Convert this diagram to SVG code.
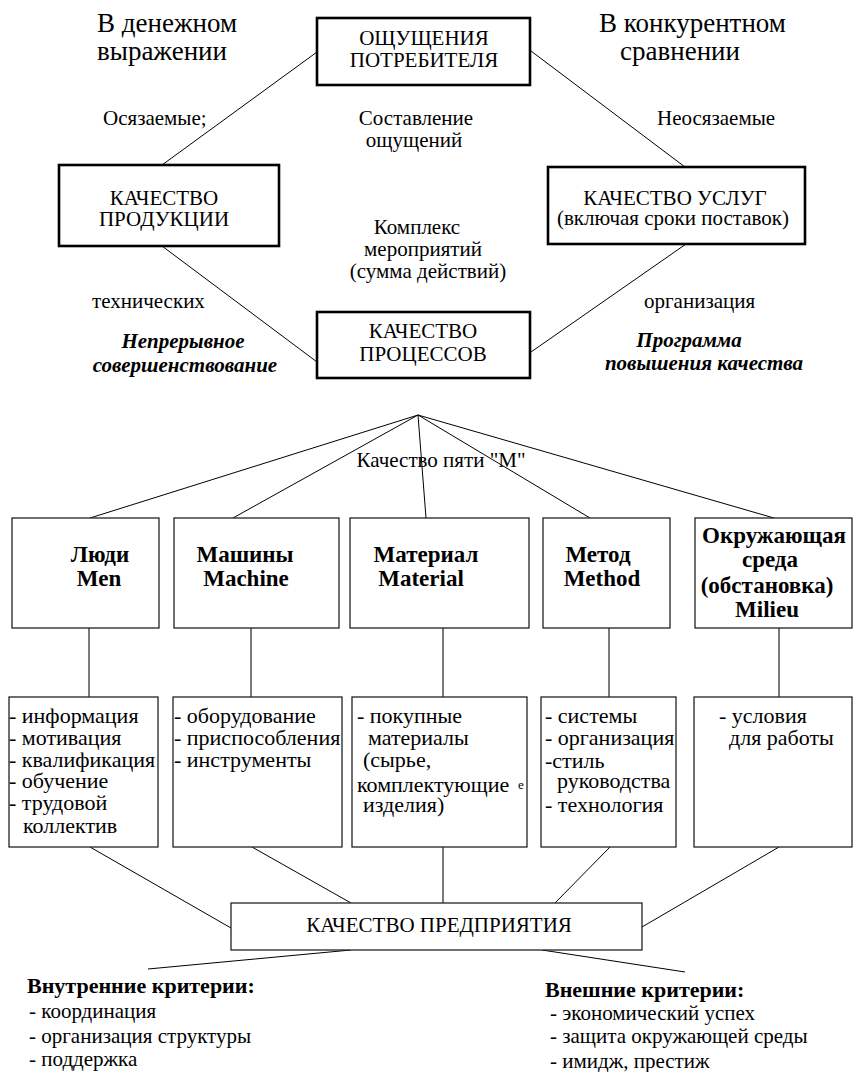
<svg xmlns="http://www.w3.org/2000/svg" width="854" height="1072" viewBox="0 0 854 1072">
  <rect width="854" height="1072" fill="#fff"/>

  <!-- connectors -->
  <g id="connectors" stroke="#000" stroke-width="1" fill="none">
    <line x1="317" y1="52" x2="162" y2="165"/>
    <line x1="531" y1="51" x2="685" y2="167"/>
    <line x1="162" y1="246" x2="317" y2="362"/>
    <line x1="686" y1="244" x2="531" y2="352"/>
    <line x1="418" y1="415" x2="90" y2="518"/>
    <line x1="418" y1="415" x2="233" y2="518"/>
    <line x1="418" y1="415" x2="426" y2="518"/>
    <line x1="418" y1="415" x2="590" y2="518"/>
    <line x1="418" y1="415" x2="774" y2="518"/>
    <g stroke="#333" stroke-width="1.3">
      <line x1="89" y1="628" x2="89" y2="697"/>
      <line x1="251" y1="628" x2="251" y2="697"/>
      <line x1="443" y1="628" x2="443" y2="697"/>
      <line x1="609" y1="628" x2="609" y2="697"/>
      <line x1="779" y1="628" x2="779" y2="697"/>
      <line x1="443" y1="847" x2="443" y2="903"/>
    </g>
    <line x1="90" y1="847" x2="231" y2="928"/>
    <line x1="252" y1="847" x2="351" y2="903"/>
    <line x1="610" y1="847" x2="555" y2="903"/>
    <line x1="779" y1="847" x2="642" y2="927"/>
    <line x1="351" y1="950" x2="148" y2="969"/>
    <line x1="542" y1="950" x2="685" y2="972"/>
  </g>

  <!-- free labels -->
  <g id="labels">
    <text font-family="Liberation Serif" font-size="27" x="97" y="32">В денежном</text>
    <text font-family="Liberation Serif" font-size="27" x="97" y="60">выражении</text>
    <text font-family="Liberation Serif" font-size="27" x="599" y="32">В конкурентном</text>
    <text font-family="Liberation Serif" font-size="27" x="620" y="60">сравнении</text>
    <text font-family="Liberation Serif" font-size="21" x="103" y="125">Осязаемые;</text>
    <text font-family="Liberation Serif" font-size="21" text-anchor="middle" x="416" y="125">Составление</text>
    <text font-family="Liberation Serif" font-size="21" text-anchor="middle" x="414" y="147">ощущений</text>
    <text font-family="Liberation Serif" font-size="21" x="657" y="125">Неосязаемые</text>
    <text font-family="Liberation Serif" font-size="21" text-anchor="middle" x="417" y="234">Комплекс</text>
    <text font-family="Liberation Serif" font-size="21" text-anchor="middle" x="423" y="256">мероприятий</text>
    <text font-family="Liberation Serif" font-size="21" text-anchor="middle" x="428" y="278">(сумма действий)</text>
    <text font-family="Liberation Serif" font-size="21" x="92" y="308">технических</text>
    <text font-family="Liberation Serif" font-size="21" x="644" y="308">организация</text>
    <text font-family="Liberation Serif" font-size="21" font-weight="bold" font-style="italic" text-anchor="middle" x="183" y="348">Непрерывное</text>
    <text font-family="Liberation Serif" font-size="21" font-weight="bold" font-style="italic" text-anchor="middle" x="185" y="372">совершенствование</text>
    <text font-family="Liberation Serif" font-size="21" font-weight="bold" font-style="italic" text-anchor="middle" x="689" y="347">Программа</text>
    <text font-family="Liberation Serif" font-size="21" font-weight="bold" font-style="italic" text-anchor="middle" x="704" y="370">повышения качества</text>
    <text font-family="Liberation Serif" font-size="21" text-anchor="middle" x="441" y="467">Качество пяти "М"</text>
  </g>

  <g id="node-consumer">
    <rect x="317" y="18" width="213" height="67" fill="#fff" stroke="#000" stroke-width="2.6"/>
    <text font-family="Liberation Serif" font-size="21" text-anchor="middle" x="424" y="45">ОЩУЩЕНИЯ</text>
    <text font-family="Liberation Serif" font-size="21" text-anchor="middle" x="424" y="67">ПОТРЕБИТЕЛЯ</text>
  </g>
  <g id="node-product">
    <rect x="59" y="165" width="220" height="81" fill="#fff" stroke="#000" stroke-width="2.6"/>
    <text font-family="Liberation Serif" font-size="21" text-anchor="middle" x="164" y="205">КАЧЕСТВО</text>
    <text font-family="Liberation Serif" font-size="21" text-anchor="middle" x="164" y="226">ПРОДУКЦИИ</text>
  </g>
  <g id="node-service">
    <rect x="548" y="167" width="257" height="77" fill="#fff" stroke="#000" stroke-width="2.6"/>
    <text font-family="Liberation Serif" font-size="21" text-anchor="middle" x="675" y="205">КАЧЕСТВО УСЛУГ</text>
    <text font-family="Liberation Serif" font-size="21" text-anchor="middle" x="673" y="225">(включая сроки поставок)</text>
  </g>
  <g id="node-process">
    <rect x="317" y="312" width="213" height="66" fill="#fff" stroke="#000" stroke-width="2.6"/>
    <text font-family="Liberation Serif" font-size="21" text-anchor="middle" x="423" y="338">КАЧЕСТВО</text>
    <text font-family="Liberation Serif" font-size="21" text-anchor="middle" x="423" y="361">ПРОЦЕССОВ</text>
  </g>

  <g id="node-men">
    <rect x="12" y="518" width="147" height="110" fill="#fff" stroke="#222" stroke-width="1.3"/>
    <text font-family="Liberation Serif" font-size="23" font-weight="bold" text-anchor="middle" x="100" y="562">Люди</text>
    <text font-family="Liberation Serif" font-size="23" font-weight="bold" text-anchor="middle" x="99" y="586">Men</text>
  </g>
  <g id="node-machine">
    <rect x="174" y="518" width="165" height="110" fill="#fff" stroke="#222" stroke-width="1.3"/>
    <text font-family="Liberation Serif" font-size="23" font-weight="bold" text-anchor="middle" x="245" y="562">Машины</text>
    <text font-family="Liberation Serif" font-size="23" font-weight="bold" text-anchor="middle" x="246" y="586">Machine</text>
  </g>
  <g id="node-material">
    <rect x="350" y="518" width="179" height="110" fill="#fff" stroke="#222" stroke-width="1.3"/>
    <text font-family="Liberation Serif" font-size="23" font-weight="bold" text-anchor="middle" x="426" y="562">Материал</text>
    <text font-family="Liberation Serif" font-size="23" font-weight="bold" text-anchor="middle" x="421" y="586">Material</text>
  </g>
  <g id="node-method">
    <rect x="543" y="518" width="127" height="110" fill="#fff" stroke="#222" stroke-width="1.3"/>
    <text font-family="Liberation Serif" font-size="23" font-weight="bold" text-anchor="middle" x="598" y="562">Метод</text>
    <text font-family="Liberation Serif" font-size="23" font-weight="bold" text-anchor="middle" x="602" y="586">Method</text>
  </g>
  <g id="node-milieu">
    <rect x="695" y="518" width="157" height="110" fill="#fff" stroke="#222" stroke-width="1.3"/>
    <text font-family="Liberation Serif" font-size="23" font-weight="bold" text-anchor="middle" x="774" y="543">Окружающая</text>
    <text font-family="Liberation Serif" font-size="23" font-weight="bold" text-anchor="middle" x="770" y="567">среда</text>
    <text font-family="Liberation Serif" font-size="23" font-weight="bold" text-anchor="middle" x="767" y="593">(обстановка)</text>
    <text font-family="Liberation Serif" font-size="23" font-weight="bold" text-anchor="middle" x="767" y="617">Milieu</text>
  </g>

  <g id="list-men">
    <rect x="9" y="697" width="149" height="150" fill="#fff" stroke="#222" stroke-width="1.3"/>
    <text font-family="Liberation Serif" font-size="22" x="9" y="723">- информация</text>
    <text font-family="Liberation Serif" font-size="22" x="9" y="745">- мотивация</text>
    <text font-family="Liberation Serif" font-size="22" x="9" y="767">- квалификация</text>
    <text font-family="Liberation Serif" font-size="22" x="9" y="788">- обучение</text>
    <text font-family="Liberation Serif" font-size="22" x="9" y="810">- трудовой</text>
    <text font-family="Liberation Serif" font-size="22" x="23" y="833">коллектив</text>
  </g>
  <g id="list-machine">
    <rect x="173" y="697" width="169" height="150" fill="#fff" stroke="#222" stroke-width="1.3"/>
    <text font-family="Liberation Serif" font-size="22" x="174" y="723">- оборудование</text>
    <text font-family="Liberation Serif" font-size="22" x="174" y="745">- приспособления</text>
    <text font-family="Liberation Serif" font-size="22" x="174" y="767">- инструменты</text>
  </g>
  <g id="list-material">
    <rect x="352" y="697" width="175" height="150" fill="#fff" stroke="#222" stroke-width="1.3"/>
    <text font-family="Liberation Serif" font-size="22" x="357" y="723">- покупные</text>
    <text font-family="Liberation Serif" font-size="22" x="368" y="745">материалы</text>
    <text font-family="Liberation Serif" font-size="22" x="363" y="767">(сырье,</text>
    <text font-family="Liberation Serif" font-size="22" x="357" y="792">комплектующие</text>
    <text font-family="Liberation Serif" font-size="22" x="363" y="812">изделия)</text>
    <text font-family="Liberation Serif" font-size="13" x="518" y="789">е</text>
  </g>
  <g id="list-method">
    <rect x="541" y="697" width="135" height="150" fill="#fff" stroke="#222" stroke-width="1.3"/>
    <text font-family="Liberation Serif" font-size="22" x="545" y="723">- системы</text>
    <text font-family="Liberation Serif" font-size="22" x="545" y="745">- организация</text>
    <text font-family="Liberation Serif" font-size="22" x="545" y="768">-стиль</text>
    <text font-family="Liberation Serif" font-size="22" x="557" y="788">руководства</text>
    <text font-family="Liberation Serif" font-size="22" x="545" y="812">- технология</text>
  </g>
  <g id="list-milieu">
    <rect x="694" y="697" width="158" height="150" fill="#fff" stroke="#222" stroke-width="1.3"/>
    <text font-family="Liberation Serif" font-size="22" x="719" y="723">- условия</text>
    <text font-family="Liberation Serif" font-size="22" x="729" y="745">для работы</text>
  </g>

  <g id="node-enterprise">
    <rect x="231" y="903" width="411" height="47" fill="#fff" stroke="#222" stroke-width="1.3"/>
    <text font-family="Liberation Serif" font-size="21" text-anchor="middle" x="439" y="932">КАЧЕСТВО ПРЕДПРИЯТИЯ</text>
  </g>

  <g id="internal-criteria">
    <text font-family="Liberation Serif" font-size="22" font-weight="bold" x="27" y="993">Внутренние критерии:</text>
    <text font-family="Liberation Serif" font-size="21" x="29" y="1018">- координация</text>
    <text font-family="Liberation Serif" font-size="21" x="29" y="1043">- организация структуры</text>
    <text font-family="Liberation Serif" font-size="21" x="29" y="1066">- поддержка</text>
  </g>
  <g id="external-criteria">
    <text font-family="Liberation Serif" font-size="22" font-weight="bold" x="545" y="997">Внешние критерии:</text>
    <text font-family="Liberation Serif" font-size="21" x="550" y="1020">- экономический успех</text>
    <text font-family="Liberation Serif" font-size="21" x="550" y="1043">- защита окружающей среды</text>
    <text font-family="Liberation Serif" font-size="21" x="550" y="1068">- имидж, престиж</text>
  </g>
</svg>
